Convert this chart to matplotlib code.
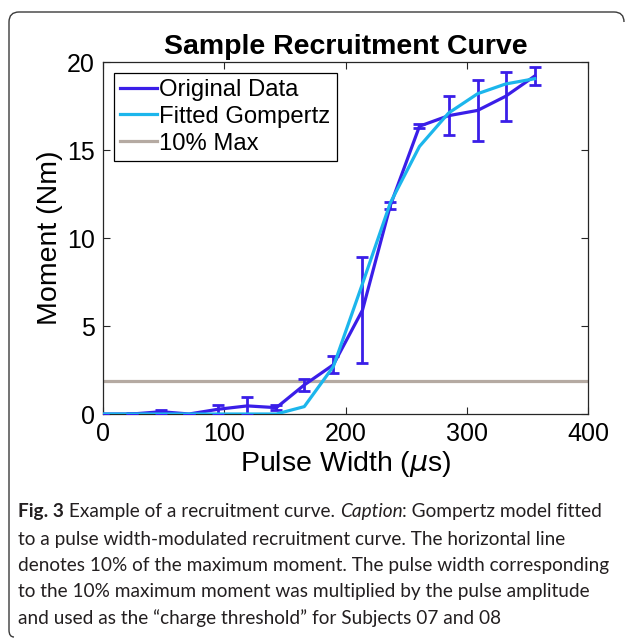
import matplotlib
matplotlib.use('Agg')
import matplotlib.pyplot as plt
from matplotlib.path import Path
from matplotlib.patches import PathPatch
from matplotlib.lines import Line2D

ORIG_COLOR = '#3a1ee8'
FIT_COLOR = '#1cb6ec'
MAX_COLOR = '#b5aaa2'
BOX_COLOR = '#262626'

# --- data ---
pulse_width = [0, 24, 48, 71, 95, 119, 143, 166, 190, 214, 237, 261, 285, 309, 332, 356]
moment = [0.0, 0.0, 0.13, 0.0, 0.27, 0.46, 0.36, 1.65, 2.8, 5.9, 11.85, 16.35, 16.95, 17.25, 18.05, 19.2]
moment_err = [0.0, 0.05, 0.12, 0.0, 0.25, 0.5, 0.15, 0.35, 0.48, 3.0, 0.2, 0.1, 1.1, 1.75, 1.4, 0.5]
gompertz = [0.0, 0.0, 0.0, 0.0, 0.0, 0.0, 0.0, 0.42, 2.7, 7.4, 12.0, 15.2, 17.1, 18.2, 18.75, 19.05]
ten_pct_max = 1.9

caption_lines = [
    'to a pulse width-modulated recruitment curve. The horizontal line',
    'denotes 10% of the maximum moment. The pulse width corresponding',
    'to the 10% maximum moment was multiplied by the pulse amplitude',
    'and used as the \u201ccharge threshold\u201d for Subjects 07 and 08',
]

#---------------------------------

plt.rcParams['font.family'] = ['Liberation Sans', 'DejaVu Sans']
plt.rcParams['mathtext.fontset'] = 'custom'
plt.rcParams['mathtext.it'] = 'DejaVu Sans:italic'

W, H = 630, 638
fig = plt.figure(figsize=(W / 100, H / 100), dpi=100)

def px(x, y):
    # pixel coords (y down) -> figure fraction
    return x / W, 1 - y / H

ax = fig.add_axes([103 / W, 1 - 414 / H, (588 - 103) / W, (414 - 62) / H])

ax.axhline(ten_pct_max, color=MAX_COLOR, linewidth=2.3, zorder=1)
ax.errorbar(pulse_width, moment, yerr=moment_err, color=ORIG_COLOR, linewidth=2.3,
            elinewidth=2.0, capsize=4, capthick=2.0, zorder=3)
ax.plot(pulse_width, gompertz, color=FIT_COLOR, linewidth=2.3, zorder=4)

ax.set_xlim(0, 400)
ax.set_ylim(0, 20)
ax.set_xticks([0, 100, 200, 300, 400])
ax.set_yticks([0, 5, 10, 15, 20])
ax.tick_params(direction='in', length=5, width=0.8, top=True, right=True,
               labelsize=18, colors=BOX_COLOR, labelcolor='black', pad=6)
for s in ax.spines.values():
    s.set_color(BOX_COLOR)
    s.set_linewidth(0.9)

ax.set_xlabel(r'Pulse Width ($\mu$s)', fontsize=20.5, labelpad=2)
ax.set_ylabel('Moment (Nm)', fontsize=20.5, labelpad=3)
ax.set_title('Sample Recruitment Curve', fontsize=20.5, fontweight='bold', pad=6)

leg_handles = [Line2D([], [], color=c, linewidth=2.3) for c in [ORIG_COLOR, FIT_COLOR, MAX_COLOR]]
leg = ax.legend(leg_handles, ['Original Data', 'Fitted Gompertz', '10% Max'],
                loc='upper left', bbox_to_anchor=((114 - 103) / 485, (414 - 73) / 352),
                borderaxespad=0, fontsize=17.2, handlelength=1.55, handletextpad=0.1,
                labelspacing=0.2, borderpad=0.25, fancybox=False, framealpha=1,
                edgecolor='black')
leg.get_frame().set_linewidth(0.9)

# --- rounded border frame ---
verts = [px(14, 637), px(9, 637), px(9, 630),
         px(9, 22), px(9, 12), px(19, 12),
         px(614, 12), px(624, 12), px(624, 22)]
codes = [Path.MOVETO, Path.CURVE3, Path.CURVE3,
         Path.LINETO, Path.CURVE3, Path.CURVE3,
         Path.LINETO, Path.CURVE3, Path.CURVE3]
fig.patches.append(PathPatch(Path(verts, codes), transform=fig.transFigure,
                             fill=False, edgecolor='#3a3a3a', linewidth=1.0))

# --- caption ---
CAP_FONT = ['Lato', 'DejaVu Sans']
CAP_SIZE = 13.7
CAP_COLOR = '#231f20'
renderer = fig.canvas.get_renderer()

x0, y0 = px(18, 512)
pieces = [('Fig. 3', 'bold', 'normal'),
          (' Example of a recruitment curve. ', 'normal', 'normal'),
          ('Caption', 'normal', 'italic'),
          (': Gompertz model fitted', 'normal', 'normal')]
xc = x0
for txt, wt, st in pieces:
    t = fig.text(xc, y0, txt, family=CAP_FONT, fontsize=CAP_SIZE, fontweight=wt,
                 style=st, color=CAP_COLOR, va='center', ha='left')
    bb = t.get_window_extent(renderer)
    xc += bb.width / W

for i, line in enumerate(caption_lines):
    fig.text(x0, px(0, 539 + i * 26.5)[1], line, family=CAP_FONT, fontsize=CAP_SIZE,
             color=CAP_COLOR, va='center', ha='left')

fig.savefig('out.png', dpi=100)
